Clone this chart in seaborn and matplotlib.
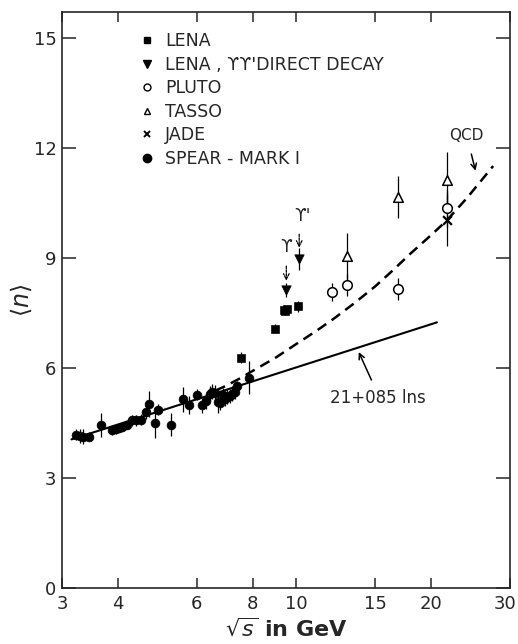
import numpy as np
import matplotlib
matplotlib.use('Agg')
import matplotlib.pyplot as plt
import matplotlib.transforms as mtransforms
import seaborn as sns
from matplotlib.ticker import FixedLocator, FixedFormatter, NullLocator
from matplotlib.lines import Line2D

# SPEAR - MARK I
spear_x = [3.23, 3.29, 3.35, 3.45, 3.67, 3.87, 3.95, 4.02, 4.09, 4.19, 4.30, 4.39, 4.51,
           4.62, 4.70, 4.83, 4.92, 5.26, 5.59, 5.77, 5.99, 6.15, 6.28, 6.41, 6.50, 6.57,
           6.68, 6.75, 6.86, 6.95, 7.02, 7.12, 7.20, 7.28, 7.38, 7.85]
spear_y = [4.18, 4.14, 4.12, 4.12, 4.45, 4.30, 4.33, 4.36, 4.39, 4.44, 4.57, 4.57, 4.59,
           4.80, 5.01, 4.51, 4.86, 4.45, 5.14, 4.98, 5.27, 4.98, 5.09, 5.30, 5.35, 5.32,
           5.07, 5.04, 5.25, 5.15, 5.21, 5.23, 5.30, 5.35, 5.50, 5.73]
spear_err = [0.15, 0.2, 0.2, 0.12, 0.33, 0.12, 0.12, 0.12, 0.12, 0.12, 0.15, 0.15, 0.15,
             0.2, 0.36, 0.42, 0.15, 0.32, 0.34, 0.25, 0.15, 0.2, 0.2, 0.2, 0.2, 0.2,
             0.3, 0.2, 0.2, 0.2, 0.2, 0.2, 0.2, 0.2, 0.15, 0.45]

# LENA
lena_x = [7.54, 8.97, 9.38, 9.46, 9.54, 10.08]
lena_y = [6.27, 7.07, 7.58, 7.55, 7.60, 7.68]
lena_err = [0.15, 0.12, 0.12, 0.12, 0.12, 0.15]

# LENA, Upsilon direct decay
ups_x = [9.50, 10.15]
ups_y = [8.12, 8.96]
ups_err = [0.2, 0.3]

# PLUTO
pluto_x = [12.0, 13.0, 16.9, 21.7]
pluto_y = [8.07, 8.27, 8.15, 10.35]
pluto_err = [0.25, 0.3, 0.3, 0.5]

# TASSO
tasso_x = [13.0, 16.9, 21.7]
tasso_y = [9.05, 10.66, 11.12]
tasso_err = [0.63, 0.57, 0.75]

# JADE
jade_x = [21.7]
jade_y = [10.03]
jade_err = [0.7]

# QCD curve and 2.1 + 0.85 ln s line
qcd_x = [6.6, 7.0, 7.5, 8.0, 9.0, 10.0, 11.0, 12.0, 13.4, 15.0, 16.5, 18.0, 20.0, 21.6, 24.0, 27.5]
qcd_y = [5.38, 5.52, 5.72, 5.92, 6.28, 6.65, 6.98, 7.30, 7.74, 8.22, 8.68, 9.12, 9.62, 10.0, 10.62, 11.5]
fit_x = [3.15, 20.6]
fit_y = [4.05, 7.24]

x_ticks = [3, 4, 6, 8, 10, 15, 20, 30]
y_ticks = [0, 3, 6, 9, 12, 15]

sns.set_style('ticks')
plt.rcParams['font.family'] = ['DejaVu Sans']

fig = plt.figure(figsize=(5.18, 6.44), dpi=100)
ax = fig.add_axes([0.1197, 0.087, 0.865, 0.8944])
ax.set_xscale('log')

sns.lineplot(x=fit_x, y=fit_y, ax=ax, color='black', linewidth=1.5)
sns.lineplot(x=qcd_x, y=qcd_y, ax=ax, color='black', linewidth=1.8)
ax.lines[-1].set_dashes((4.2, 2.6))

for xs, ys, es in [(spear_x, spear_y, spear_err), (lena_x, lena_y, lena_err),
                   (ups_x, ups_y, ups_err), (pluto_x, pluto_y, pluto_err),
                   (tasso_x, tasso_y, tasso_err), (jade_x, jade_y, jade_err)]:
    ax.errorbar(xs, ys, yerr=es, fmt='none', ecolor='black', elinewidth=0.9, capsize=0)

sns.scatterplot(x=spear_x, y=spear_y, ax=ax, marker='o', s=40, color='black', edgecolor='black', zorder=3)
sns.scatterplot(x=lena_x, y=lena_y, ax=ax, marker='s', s=32, color='black', edgecolor='black', zorder=3)
sns.scatterplot(x=ups_x, y=ups_y, ax=ax, marker='v', s=45, color='black', edgecolor='black', zorder=3)
sns.scatterplot(x=pluto_x, y=pluto_y, ax=ax, marker='o', s=48, color='white', edgecolor='black', linewidth=1.1, zorder=3)
sns.scatterplot(x=tasso_x, y=tasso_y, ax=ax, marker='^', s=48, color='white', edgecolor='black', linewidth=1.1, zorder=3)
sns.scatterplot(x=jade_x, y=jade_y, ax=ax, marker='x', s=40, color='black', linewidth=1.6, zorder=3)

# annotations
ax.text(11.9, 5.17, '21+085 lns', fontsize=12, va='center', ha='left')
ax.annotate('', xy=(13.7, 6.5), xytext=(14.8, 5.6),
            arrowprops=dict(arrowstyle='->', color='black', lw=1.1))
ax.text(24.0, 12.34, 'QCD', fontsize=11, va='center', ha='center')
ax.annotate('', xy=(25.2, 11.3), xytext=(24.5, 11.9),
            arrowprops=dict(arrowstyle='->', color='black', lw=1.1))
ax.text(9.5, 9.3, '\u03d2', fontsize=12, va='center', ha='center')
ax.annotate('', xy=(9.5, 8.3), xytext=(9.5, 8.85),
            arrowprops=dict(arrowstyle='->', color='black', lw=0.9, linestyle=(0, (2, 1))))
ax.text(10.3, 10.15, "\u03d2'", fontsize=12, va='center', ha='center')
ax.annotate('', xy=(10.15, 9.2), xytext=(10.15, 9.72),
            arrowprops=dict(arrowstyle='->', color='black', lw=0.9, linestyle=(0, (2, 1))))

# legend
handles = [
    Line2D([], [], marker='s', color='black', linestyle='none', markersize=4.5),
    Line2D([], [], marker='v', color='black', linestyle='none', markersize=5.5),
    Line2D([], [], marker='o', markerfacecolor='white', markeredgecolor='black', linestyle='none', markersize=5),
    Line2D([], [], marker='^', markerfacecolor='white', markeredgecolor='black', linestyle='none', markersize=5),
    Line2D([], [], marker='x', color='black', linestyle='none', markersize=5, markeredgewidth=1.4),
    Line2D([], [], marker='o', color='black', linestyle='none', markersize=6),
]
labels = ['LENA', "LENA , \u03d2\u03d2'DIRECT DECAY", 'PLUTO', 'TASSO', 'JADE', 'SPEAR - MARK I']
ax.legend(handles, labels, loc='upper left', bbox_to_anchor=(0.152, 0.98), frameon=False,
          fontsize=12.5, handlelength=1.0, handletextpad=0.5, labelspacing=0.32, borderpad=0)

ax.set_xlim(3, 30)
ax.set_ylim(0, 15.7)
ax.xaxis.set_major_locator(FixedLocator(x_ticks))
ax.xaxis.set_major_formatter(FixedFormatter([str(t) for t in x_ticks]))
ax.xaxis.set_minor_locator(NullLocator())
ax.yaxis.set_major_locator(FixedLocator(y_ticks))
ax.tick_params(which='both', direction='in', top=True, right=True, width=1.1,
               labelsize=13, pad=5)
ax.tick_params(axis='x', length=7)
ax.tick_params(axis='y', length=10, pad=4)
for sp in ax.spines.values():
    sp.set_linewidth(1.2)

# keep the "30" label inside the figure edge
last = ax.get_xticklabels()[-1]
last.set_transform(last.get_transform() + mtransforms.ScaledTranslation(-5 / 100, 0, fig.dpi_scale_trans))

ax.set_xlabel(r'$\sqrt{s}$ in GeV', fontsize=16, fontweight='bold', labelpad=3)
ax.set_ylabel(r'$\langle n \rangle$', fontsize=17, labelpad=0)

fig.savefig('out.png', dpi=100)
